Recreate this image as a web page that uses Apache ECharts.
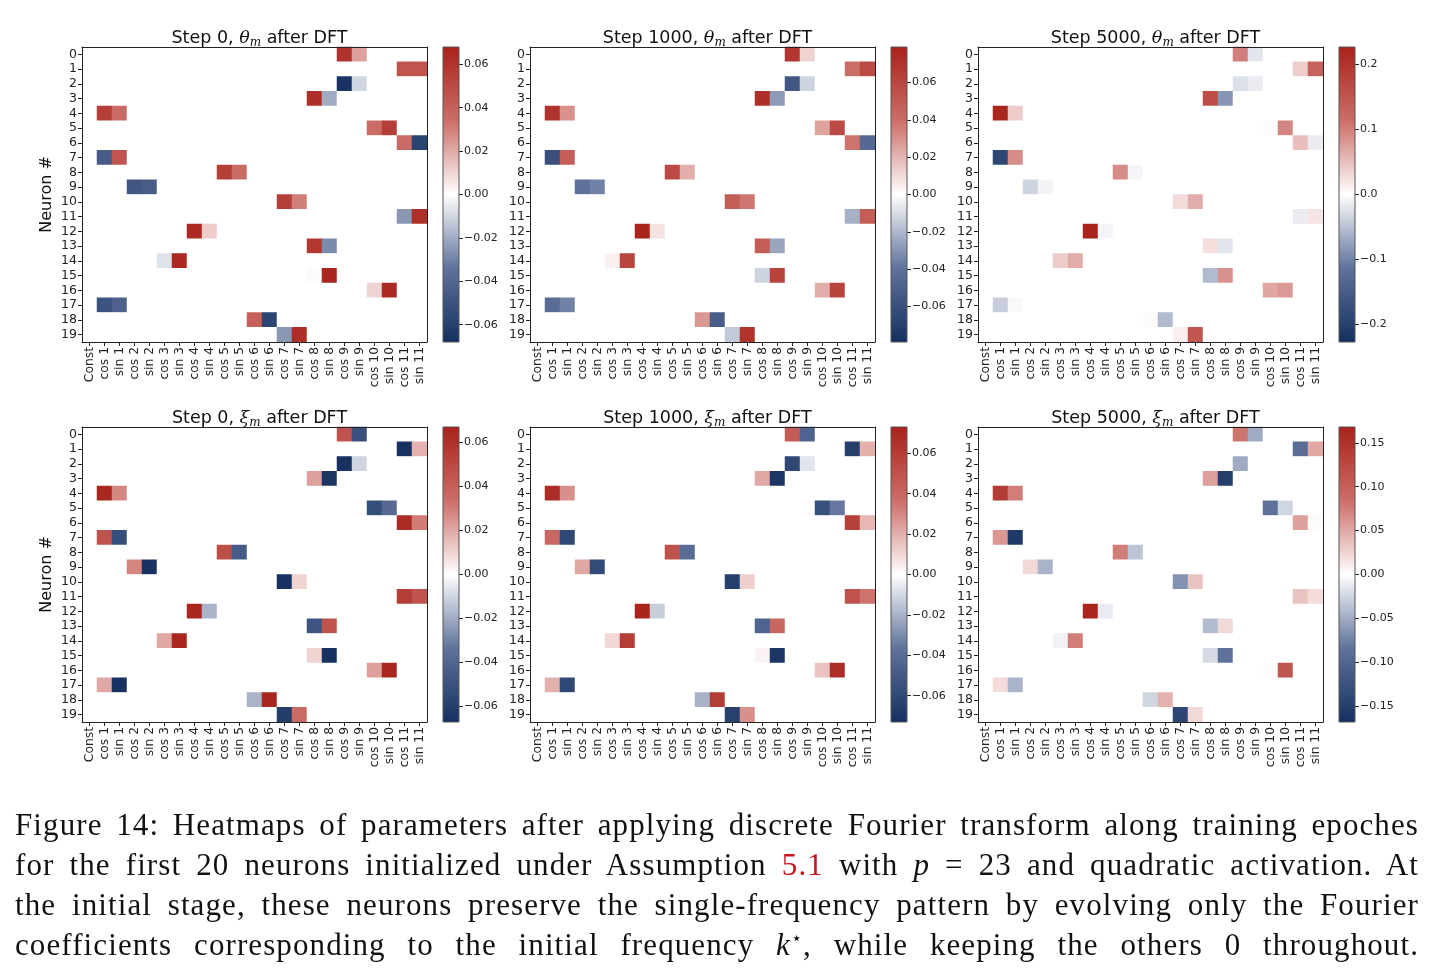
<!DOCTYPE html>
<html>
<head>
<meta charset="utf-8">
<script src="https://cdn.jsdelivr.net/npm/echarts@6/dist/echarts.min.js"></script>
<style>
  html, body { margin: 0; padding: 0; background: #fff; }
  #chart { position: absolute; left: 0; top: 0; width: 1435px; height: 979px; }
  #caption {
    position: absolute; left: 15px; top: 805px; width: 1404px;
    font-family: "Liberation Serif", serif; font-size: 31px; line-height: 40px; color: #111;
    letter-spacing: 1.1px;
  }
  #caption div { height: 40px; text-align: justify; text-align-last: justify; white-space: nowrap; }
  #caption .ref { color: #c4161c; }
  #caption .star { position: relative; top: -11px; font-size: 18px; line-height: 0; }
</style>
</head>
<body>
<div id="chart"></div>
<div id="caption">
  <div>Figure 14: Heatmaps of parameters after applying discrete Fourier transform along training epoches</div>
  <div>for the first 20 neurons initialized under Assumption <span class="ref">5.1</span> with <i>p</i> = 23 and quadratic activation. At</div>
  <div>the initial stage, these neurons preserve the single-frequency pattern by evolving only the Fourier</div>
  <div>coefficients corresponding to the initial frequency <i>k</i><span class="star">⋆</span>, while keeping the others 0 throughout.</div>
</div>
<script>
// column labels (Fourier basis) and neuron index
const categories = ["Const", "cos 1", "sin 1", "cos 2", "sin 2", "cos 3", "sin 3", "cos 4", "sin 4",
  "cos 5", "sin 5", "cos 6", "sin 6", "cos 7", "sin 7", "cos 8", "sin 8", "cos 9", "sin 9",
  "cos 10", "sin 10", "cos 11", "sin 11"];
const neurons = ["0", "1", "2", "3", "4", "5", "6", "7", "8", "9", "10", "11", "12", "13", "14", "15", "16", "17", "18", "19"];

// frequency k* of each neuron
const freqOfNeuron = [9, 11, 9, 8, 1, 10, 11, 1, 5, 2, 7, 11, 4, 8, 3, 8, 10, 1, 6, 7];

// theta_m
const thetaStep0Cos = [0.060, 0.045, -0.066, 0.062, 0.055, 0.035, 0.035, -0.045, 0.055, -0.048, 0.055, -0.025, 0.065, 0.058, -0.007, -0.001, 0.010, -0.050, 0.040, -0.025];
const thetaStep0Sin = [0.022, 0.045, -0.010, -0.020, 0.035, 0.055, -0.058, 0.045, 0.035, -0.045, 0.030, 0.062, 0.012, -0.028, 0.065, 0.066, 0.065, -0.042, -0.057, 0.062];
const thetaStep1000Cos = [0.068, 0.040, -0.055, 0.072, 0.070, 0.025, 0.038, -0.060, 0.058, -0.040, 0.048, -0.022, 0.078, 0.048, 0.004, -0.012, 0.022, -0.043, 0.028, -0.015];
const thetaStep1000Sin = [0.012, 0.058, -0.012, -0.028, 0.030, 0.058, -0.045, 0.048, 0.022, -0.035, 0.037, 0.048, 0.008, -0.025, 0.060, 0.062, 0.062, -0.035, -0.052, 0.070];
const thetaStep5000Cos = [0.100, 0.038, -0.025, 0.160, 0.220, 0.003, 0.050, -0.190, 0.090, -0.035, 0.028, -0.015, 0.226, 0.025, 0.040, -0.055, 0.070, -0.040, 0.003, 0.012];
const thetaStep5000Sin = [-0.020, 0.130, -0.015, -0.085, 0.040, 0.095, -0.015, 0.090, -0.008, -0.010, 0.065, 0.020, -0.008, -0.020, 0.065, 0.085, 0.080, -0.005, -0.055, 0.150];

// xi_m
const xiStep0Cos = [0.045, -0.066, -0.066, 0.022, 0.065, -0.052, 0.063, 0.045, 0.048, 0.028, -0.066, 0.055, 0.065, -0.048, 0.020, 0.010, 0.022, 0.020, -0.018, -0.060];
const xiStep0Sin = [-0.050, 0.018, -0.010, -0.064, 0.028, -0.038, 0.030, -0.052, -0.045, -0.066, 0.010, 0.045, -0.018, 0.045, 0.065, -0.066, 0.065, -0.066, 0.065, 0.035];
const xiStep1000Cos = [0.045, -0.065, -0.060, 0.022, 0.068, -0.055, 0.058, 0.040, 0.050, 0.022, -0.065, 0.050, 0.072, -0.045, 0.010, 0.003, 0.015, 0.020, -0.020, -0.064];
const xiStep1000Sin = [-0.045, 0.020, -0.007, -0.070, 0.028, -0.035, 0.018, -0.060, -0.040, -0.058, 0.012, 0.035, -0.013, 0.040, 0.060, -0.070, 0.068, -0.060, 0.060, 0.028];
const xiStep5000Cos = [0.080, -0.090, -0.050, 0.055, 0.140, -0.085, 0.055, 0.060, 0.075, 0.022, -0.065, 0.035, 0.165, -0.040, -0.008, -0.022, 0.002, 0.020, -0.025, -0.140];
const xiStep5000Sin = [-0.050, 0.050, 0.000, -0.150, 0.075, -0.025, 0.003, -0.155, -0.035, -0.045, 0.035, 0.020, -0.012, 0.022, 0.075, -0.085, 0.110, -0.045, 0.045, 0.022];

// colorbar limits and ticks
const colorLimits = [0.068, 0.079, 0.227, 0.067, 0.073, 0.168];
const ticksSmall = [-0.06, -0.04, -0.02, 0, 0.02, 0.04, 0.06];
const ticksTheta5000 = [-0.2, -0.1, 0, 0.1, 0.2];
const ticksXi5000 = [-0.15, -0.10, -0.05, 0, 0.05, 0.10, 0.15];

const cmap = ["#15305f", "#5f729b", "#ffffff", "#cb6e68", "#a8221b"];

const panels = [
  { step: "Step 0", sym: "θ", cos: thetaStep0Cos, sin: thetaStep0Sin, ticks: ticksSmall, dec: 2, left: 82, top: 47, cb: 443 },
  { step: "Step 1000", sym: "θ", cos: thetaStep1000Cos, sin: thetaStep1000Sin, ticks: ticksSmall, dec: 2, left: 530, top: 47, cb: 891 },
  { step: "Step 5000", sym: "θ", cos: thetaStep5000Cos, sin: thetaStep5000Sin, ticks: ticksTheta5000, dec: 1, left: 978, top: 47, cb: 1339 },
  { step: "Step 0", sym: "ξ", cos: xiStep0Cos, sin: xiStep0Sin, ticks: ticksSmall, dec: 2, left: 82, top: 427, cb: 443 },
  { step: "Step 1000", sym: "ξ", cos: xiStep1000Cos, sin: xiStep1000Sin, ticks: ticksSmall, dec: 2, left: 530, top: 427, cb: 891 },
  { step: "Step 5000", sym: "ξ", cos: xiStep5000Cos, sin: xiStep5000Sin, ticks: ticksXi5000, dec: 2, left: 978, top: 427, cb: 1339 }
];

const W = 345, H = 295;
const font = "DejaVu Sans";
const ink = "#222";

let grid = [], xAxis = [], yAxis = [], series = [], visualMap = [], title = [];
let heatSeries = [];

panels.forEach((p, i) => {
  const vmax = colorLimits[i];
  // heatmap grid
  const g = grid.length;
  grid.push({ left: p.left, top: p.top, width: W, height: H });
  const xb = xAxis.length;
  xAxis.push({
    type: "category", gridIndex: g, data: categories, position: "bottom", z: 5,
    axisLine: { show: true, lineStyle: { color: ink, width: 1 } },
    axisTick: { show: true, alignWithLabel: true, length: 4, lineStyle: { color: ink } },
    axisLabel: { rotate: 90, interval: 0, fontSize: 12.3, color: ink, fontFamily: font, margin: 5 },
    splitLine: { show: false }
  });
  xAxis.push({
    type: "category", gridIndex: g, data: categories, position: "top", z: 5,
    axisLine: { show: true, lineStyle: { color: ink, width: 1 } },
    axisTick: { show: false }, axisLabel: { show: false }
  });
  const yl = yAxis.length;
  yAxis.push({
    type: "category", gridIndex: g, data: neurons, inverse: true, position: "left", z: 5,
    name: (i % 3 === 0) ? "Neuron #" : "", nameLocation: "middle", nameRotate: 90, nameGap: 27,
    nameTextStyle: { fontSize: 16, color: "#111", fontFamily: font },
    axisLine: { show: true, lineStyle: { color: ink, width: 1 } },
    axisTick: { show: true, alignWithLabel: true, length: 4, lineStyle: { color: ink } },
    axisLabel: { interval: 0, fontSize: 12.5, color: ink, fontFamily: font, margin: 5 },
    splitLine: { show: false }
  });
  yAxis.push({
    type: "category", gridIndex: g, data: neurons, inverse: true, position: "right", z: 5,
    axisLine: { show: true, lineStyle: { color: ink, width: 1 } },
    axisTick: { show: false }, axisLabel: { show: false }
  });

  const data = [];
  for (let r = 0; r < neurons.length; r++) {
    const k = freqOfNeuron[r];
    for (let c = 0; c < categories.length; c++) {
      let v = 0;
      if (c === 2 * k - 1) v = p.cos[r];
      if (c === 2 * k) v = p.sin[r];
      data.push([c, r, v]);
    }
  }
  heatSeries.push({
    type: "heatmap", xAxisIndex: xb, yAxisIndex: yl, data: data,
    itemStyle: { borderWidth: 0 }, emphasis: { disabled: true }
  });
  visualMap.push({
    type: "continuous", show: false, seriesIndex: i, min: -vmax, max: vmax,
    inRange: { color: cmap }
  });

  title.push({
    text: "{a|" + p.step + ", }{t|" + p.sym + "}{s|m}{a| after DFT}",
    left: p.left + W / 2, top: p.top - 24, textAlign: "center",
    textStyle: {
      fontWeight: "normal",
      rich: {
        a: { fontSize: 17.5, fontFamily: font, fontWeight: "normal", color: "#111" },
        t: { fontSize: 17.5, fontFamily: "DejaVu Serif", fontStyle: "italic", fontWeight: "normal", color: "#111" },
        s: { fontSize: 12, fontFamily: "DejaVu Serif", fontStyle: "italic", fontWeight: "normal", color: "#111", padding: [9, 0, 0, 0] }
      }
    }
  });
});

// colorbars
const cbSeries = [];
panels.forEach((p, i) => {
  const vmax = colorLimits[i];
  const g = grid.length;
  grid.push({ left: p.cb, top: p.top, width: 16, height: H });
  const xi = xAxis.length;
  xAxis.push({ type: "category", gridIndex: g, data: [""], show: false });
  const yi = yAxis.length;
  yAxis.push({
    type: "value", gridIndex: g, min: -vmax, max: vmax, position: "right",
    axisLine: { show: false }, splitLine: { show: false },
    axisTick: { show: true, length: 4, customValues: p.ticks, lineStyle: { color: ink } },
    axisLabel: {
      customValues: p.ticks, fontSize: 11, color: ink, fontFamily: font, margin: 5,
      formatter: (v) => Number(v).toFixed(p.dec).replace("-", "\u2212")
    }
  });
  cbSeries.push({
    type: "custom", xAxisIndex: xi, yAxisIndex: yi, data: [[0, vmax]], silent: true,
    renderItem: (params, api) => {
      const cs = params.coordSys;
      return {
        type: "rect",
        shape: { x: cs.x, y: cs.y, width: cs.width, height: cs.height },
        style: {
          fill: new echarts.graphic.LinearGradient(0, 0, 0, 1, [
            { offset: 0, color: cmap[4] }, { offset: 0.25, color: cmap[3] },
            { offset: 0.5, color: cmap[2] }, { offset: 0.75, color: cmap[1] },
            { offset: 1, color: cmap[0] }
          ]),
          stroke: "#555", lineWidth: 1
        }
      };
    }
  });
});

series = heatSeries.concat(cbSeries);

const chart = echarts.init(document.getElementById("chart"));
chart.setOption({
  animation: false,
  backgroundColor: "#fff",
  title: title,
  grid: grid,
  xAxis: xAxis,
  yAxis: yAxis,
  visualMap: visualMap,
  series: series
});
</script>
</body>
</html>
